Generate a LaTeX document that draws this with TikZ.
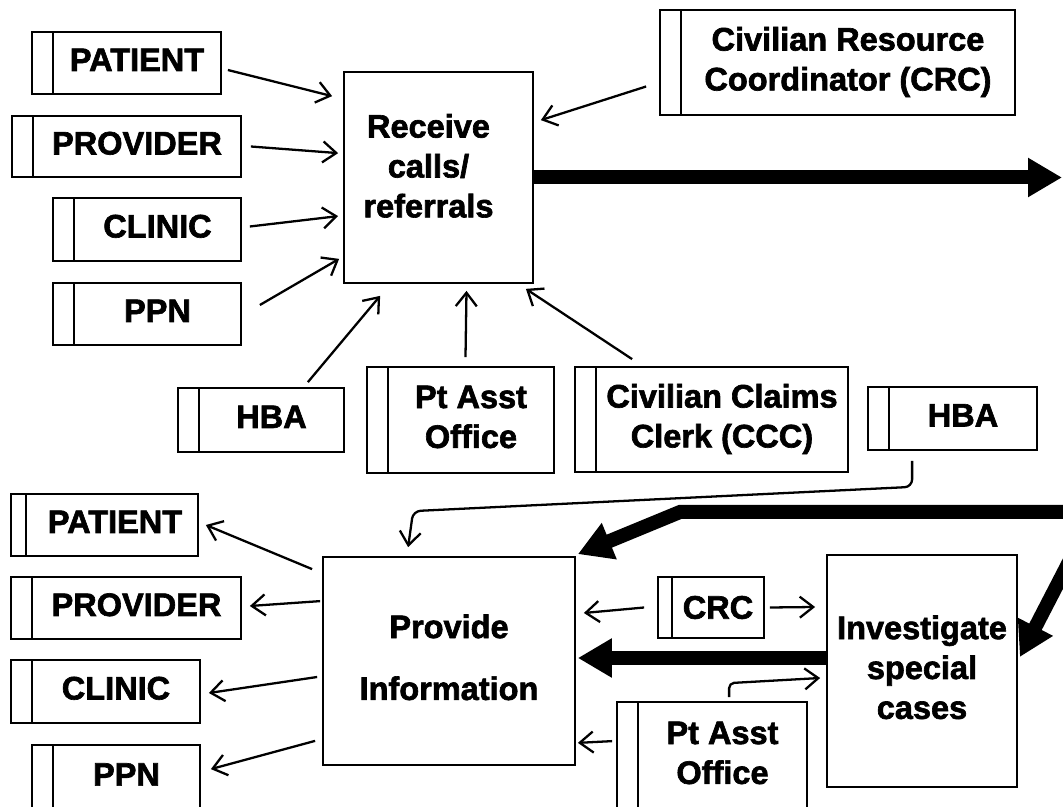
\documentclass[tikz,border=0pt]{standalone}
\usepackage{fontspec}
\setmainfont{Liberation Sans}[BoldFeatures={FakeBold=2}]
\usetikzlibrary{arrows.meta}

% text of a box with a side bar, centred right of the bar
\newcommand{\lbl}[1]{\hspace*{0.42cm}\begin{tabular}{@{}c@{}}#1\end{tabular}}

\tikzset{
  sz/.style 2 args={minimum width=#1*0.02cm, minimum height=#2*0.02cm},
  ext/.style={draw, line width=1pt, inner sep=0pt,
    font=\fontsize{18.5}{22.7}\selectfont\bfseries,
    path picture={\draw[line width=1pt]
      ([xshift=#1]path picture bounding box.north west) --
      ([xshift=#1]path picture bounding box.south west);}},
  ext/.default=0.42cm,
  proc/.style={draw, line width=1pt, inner sep=0pt,
    font=\fontsize{18.5}{22.7}\selectfont\bfseries},
  arr/.style={-{Straight Barb[length=0.27cm,width=0.42cm]}, line width=1.3pt},
  flow/.style={-{Triangle[length=0.68cm,width=0.74cm]}, line width=0.28cm},
}

\begin{document}
\begin{tikzpicture}[x=0.02cm, y=-0.02cm]
  \useasboundingbox (0,0) rectangle (1063,807);
  \clip (0,0) rectangle (1063,807);
  \fill[white] (0,0) rectangle (1063,807);

  % upper half: calls coming in
  \node[proc, sz={189}{211}] (recv) at (438.5,177.5)
    {\begin{tabular}{@{}c@{}}Receive\\calls/\\referrals\rule[-0.56cm]{0pt}{0.56cm}\end{tabular}\hspace*{0.4cm}};
  \node[ext, sz={189}{62}] (patA) at (126.5,63) {\lbl{PATIENT}};
  \node[ext, sz={229}{61}] (provA) at (126.5,146.5) {\lbl{PROVIDER}};
  \node[ext, sz={188}{63}] (clinA) at (147,229.5) {\lbl{CLINIC}};
  \node[ext, sz={188}{62}] (ppnA) at (147,314) {\lbl{PPN}};
  \node[ext, sz={355}{105}] (crcA) at (837.5,62.5) {\lbl{Civilian Resource\\Coordinator (CRC)}};
  \node[ext, sz={166}{64}] (hbaA) at (261,420) {\lbl{HBA}};
  \node[ext, sz={187}{106}] (ptaA) at (460.5,420) {\lbl{Pt Asst\\Office}};
  \node[ext, sz={273}{105}] (cccA) at (711.5,419.5) {\lbl{Civilian Claims\\Clerk (CCC)}};
  \node[ext, sz={169}{63}] (hbaB) at (952.5,418.5) {\lbl{HBA}};

  \draw[arr] ([shift={(6,7)}]patA.east) -- ([shift={(-11,25)}]recv.north west);
  \draw[arr] ([shift={(9,0)}]provA.east) -- ([shift={(-5,82)}]recv.north west);
  \draw[arr] ([shift={(8,-3)}]clinA.east) -- ([shift={(-5,145)}]recv.north west);
  \draw[arr] ([shift={(18,-9)}]ppnA.east) -- ([shift={(-4,-25)}]recv.south west);
  \draw[arr] ([shift={(-37,-5)}]hbaA.north east) -- ([shift={(37,12)}]recv.south west);
  \draw[arr] ([shift={(5,-9)}]ptaA.north) -- ([shift={(28,7)}]recv.south);
  \draw[arr] ([shift={(58,-7)}]cccA.north west) -- ([shift={(-8,5)}]recv.south east);
  \draw[arr] ([shift={(-13,24)}]crcA.west) -- ([shift={(7,49)}]recv.north east);

  \coordinate (outR) at (1062,177.5);
  \draw[flow] (recv.east) -- (outR);

  % lower half: information going out
  \node[proc, sz={252}{208}] (prov) at (449,661)
    {\begin{tabular}{@{}c@{}}Provide\\[0.44cm]Information\end{tabular}};
  \node[proc, sz={190}{232}] (inv) at (922,671)
    {\begin{tabular}{@{}c@{}}Investigate\\special\\cases\end{tabular}};
  \node[ext=0.3cm, sz={187}{62}] (patB) at (104.5,525) {\lbl{PATIENT}};
  \node[ext, sz={230}{62}] (provB) at (126,608) {\lbl{PROVIDER}};
  \node[ext, sz={189}{63}] (clinB) at (105.5,691.5) {\lbl{CLINIC}};
  \node[ext, sz={168}{85}] (ppnB) at (116,787.5) {\raisebox{0.64cm}{\lbl{PPN}}};
  \node[ext=0.28cm, sz={106}{61}] (crcB) at (711,607.5) {\hspace*{0.28cm}CRC};
  \node[ext, sz={190}{128}] (ptaB) at (712,766) {\lbl{Pt Asst\\Office\rule[-0.64cm]{0pt}{0.64cm}}};

  \draw[arr] ([shift={(-10,13)}]prov.north west) -- ([shift={(7,0)}]patB.east);
  \draw[arr] ([shift={(-2,45)}]prov.north west) -- ([shift={(8,-2)}]provB.east);
  \draw[arr] ([shift={(-5,16)}]prov.west) -- ([shift={(8,1.5)}]clinB.east);
  \draw[arr] ([shift={(-7,-25)}]prov.south west) -- ([shift={(10,25)}]ppnB.north east);
  \draw[arr, rounded corners=0.15cm] ([shift={(45,10)}]hbaB.south west) -- ++(0,26)
    -- ([shift={(91,-45)}]prov.north west) -- ([shift={(86,-9)}]prov.north west);

  \draw[arr] ([shift={(-13,0)}]crcB.west) -- ([shift={(8,-48)}]prov.east);
  \draw[arr] ([shift={(5,0)}]crcB.east) -- ([shift={(-11,-64)}]inv.west);
  \draw[arr] ([shift={(-4,40)}]ptaB.north west) -- ([shift={(2,-23)}]prov.south east);
  \draw[arr, rounded corners=0.1cm] ([shift={(113,-4)}]ptaB.north west) -- ++(0,-14)
    -- ([shift={(-6,7)}]inv.west);

  \coordinate (inR) at (1070,512);
  \coordinate (inS) at (1070,560);
  \draw[flow] (inR) -- ++(-390,0) -- ([shift={(2,-2)}]prov.north east);
  \draw[flow] (inS) -- ([shift={(2,-14)}]inv.east);
  \draw[flow] ([shift={(0,-13)}]inv.west) -- ([shift={(2,-3)}]prov.east);
\end{tikzpicture}
\end{document}
